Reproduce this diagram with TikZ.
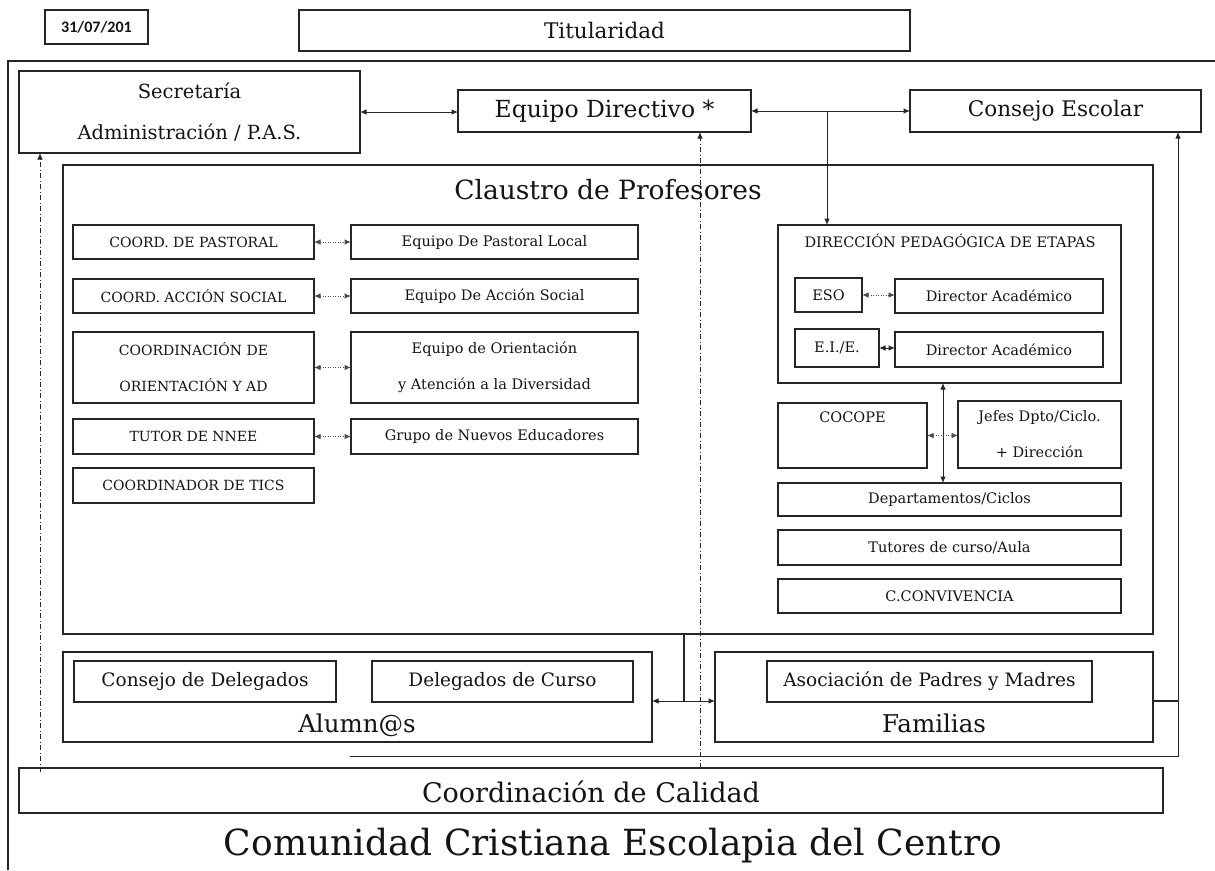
\documentclass[tikz,border=0pt]{standalone}
\usepackage{fontspec}
\setmainfont{DejaVu Serif}
\newfontfamily\datefont{Carlito}
\usetikzlibrary{arrows.meta}
\newcommand\bx[6][]{\node[box,#1,anchor=north west,minimum width={(#4-#2)*1pt},minimum height={(#5-#3)*1pt}] (#6) at (#2,#3)}
\begin{document}
\begin{tikzpicture}[x=1pt,y=-1pt,
  every node/.style={text=black!92},
  ln/.style={line width=1.1pt, draw=black!85},
  box/.style={ln, draw, inner sep=0pt, outer sep=0pt, align=center},
  fDate/.style={font=\datefont\bfseries\fontsize{16}{18}\selectfont},
  fT/.style={font=\fontsize{21.5}{26}\selectfont},
  fS/.style={font=\fontsize{19.5}{41}\selectfont},
  fE/.style={font=\fontsize{23.5}{28}\selectfont},
  fC/.style={font=\fontsize{26.5}{32}\selectfont},
  fc/.style={font=\fontsize{14}{36}\selectfont},
  fs/.style={font=\fontsize{14.5}{36}\selectfont},
  fM/.style={font=\fontsize{18.5}{22}\selectfont},
  fA/.style={font=\fontsize{24.5}{30}\selectfont},
  fK/.style={font=\fontsize{27}{32}\selectfont},
  fB/.style={font=\fontsize{36}{42}\selectfont},
  tipA/.tip={Latex[length=6.5pt,width=5.5pt]},
  arr/.style={line width=1pt, draw=black!85, -tipA},
  darr/.style={line width=1pt, draw=black!85, tipA-tipA},
  dotarr/.style={line width=1pt, draw=black!70, tipA-tipA, dash pattern=on 1pt off 1.5pt},
  dd/.style={dash pattern=on 5pt off 2.5pt on 1pt off 2.5pt}
]
\useasboundingbox (0,0) rectangle (1215,870);
\fill[white] (0,0) rectangle (1215,870);

% outer frame
\draw[ln] (8,870) -- (8,61) -- (1215,61);

% top
\bx[fDate]{45}{10}{148}{44}{date} {31/07/201};
\bx[fT]{299}{10}{910}{51}{tit} {Titularidad};
\bx[fS]{19}{71}{360}{153}{sec} {Secretaría\\Administración / P.A.S.};
\bx[fE]{458}{90}{751}{132}{ed} {Equipo Directivo *};
\bx[fT]{910}{90}{1201}{132}{ce} {Consejo Escolar};

% claustro
\bx{63}{165}{1153}{634}{cl} {};
\node[fC, anchor=base] (clt) at (608,199) {Claustro de Profesores};

% left column
\bx[fc]{73}{225}{314}{259}{cp} {COORD. DE PASTORAL};
\bx[fs]{351}{225}{638}{259}{ep} {Equipo De Pastoral Local};
\bx[fc]{73}{279}{314}{313}{cas} {COORD. ACCIÓN SOCIAL};
\bx[fs]{351}{279}{638}{313}{eas} {Equipo De Acción Social};
\bx[fc]{73}{332}{314}{403}{co} {COORDINACIÓN DE\\ORIENTACIÓN Y AD};
\bx[fs]{351}{332}{638}{403}{eo} {Equipo de Orientación\\y Atención a la Diversidad};
\bx[fc]{73}{419}{314}{454}{tn} {TUTOR DE NNEE};
\bx[fs]{351}{419}{638}{454}{gn} {Grupo de Nuevos Educadores};
\bx[fc]{73}{468}{314}{503}{ct} {COORDINADOR DE TICS};

% right column
\bx{778}{225}{1121}{383}{dp} {};
\node[fs, anchor=base] (dpt) at (950,247) {DIRECCIÓN PEDAGÓGICA DE ETAPAS};
\bx[fs]{795}{278}{862}{312}{eso} {ESO};
\bx[fs]{895}{279}{1103}{313}{da1} {Director Académico};
\bx[fs]{795}{329}{879}{367}{ei} {E.I./E.};
\bx[fs]{895}{332}{1103}{367}{da2} {Director Académico};
\bx[fs]{778}{403}{927}{468}{coc} {COCOPE\\\mbox{}};
\bx[fs]{958}{401}{1121}{468}{jef} {Jefes Dpto/Ciclo.\\+ Dirección};
\bx[fs]{778}{483}{1121}{516}{dep} {Departamentos/Ciclos};
\bx[fs]{778}{530}{1121}{565}{tut} {Tutores de curso/Aula};
\bx[fs]{778}{579}{1121}{613}{cv} {C.CONVIVENCIA};

% bottom
\bx{63}{652}{652}{742}{al} {};
\bx[fM]{74}{661}{336}{702}{cd} {Consejo de Delegados};
\bx[fM]{372}{661}{633}{702}{dc} {Delegados de Curso};
\node[fA, anchor=base] (alt) at (357,732) {Alumn@s};
\bx{715}{652}{1153}{742}{fa} {};
\bx[fM]{767}{661}{1092}{702}{apm} {Asociación de Padres y Madres};
\node[fA, anchor=base] (fat) at (934,732) {Familias};
\bx{19}{768}{1163}{813}{cc} {};
\node[fK, anchor=base] (cct) at (591,802) {Coordinación de Calidad};
\node[fB, anchor=base] (cm) at (613,855) {Comunidad Cristiana Escolapia del Centro};

% connectors
\draw[darr] (sec.east) -- (sec.east -| ed.west);
\draw[darr] (ed.east) -- (ed.east -| ce.west);
\coordinate (br) at (827,111);
\draw[arr] (br) -- (br |- dp.north);
\coordinate (ddt) at (700,768);
\draw[arr, dd] (ddt) -- (ddt |- ed.south);
\coordinate (ddl) at (40,772);
\draw[arr, dd] (ddl) -- (ddl |- sec.south);

\draw[dotarr] (cp.east) -- (ep.west);
\draw[dotarr] (cas.east) -- (eas.west);
\draw[dotarr] (co.east) -- (eo.west);
\draw[dotarr] (tn.east) -- (gn.west);

\draw[dotarr] (eso.east) -- (eso.east -| da1.west);
\draw[darr] (ei.east) -- (ei.east -| da2.west);
\coordinate (vx) at (943,430);
\draw[darr] (vx |- dp.south) -- (vx |- dep.north);
\draw[dotarr] (coc.east) -- (coc.east -| jef.west);

\coordinate (jn) at (684,701);
\draw[ln] (jn |- cl.south) -- (jn);
\draw[darr] (al.east |- jn) -- (fa.west |- jn);
\coordinate (rc) at (1178,756);
\coordinate (lb) at (350,756);
\draw[ln] (fa.east |- jn) -- (jn -| rc);
\draw[arr] (lb) -- (rc) -- (rc |- ce.south);
\end{tikzpicture}
\end{document}
